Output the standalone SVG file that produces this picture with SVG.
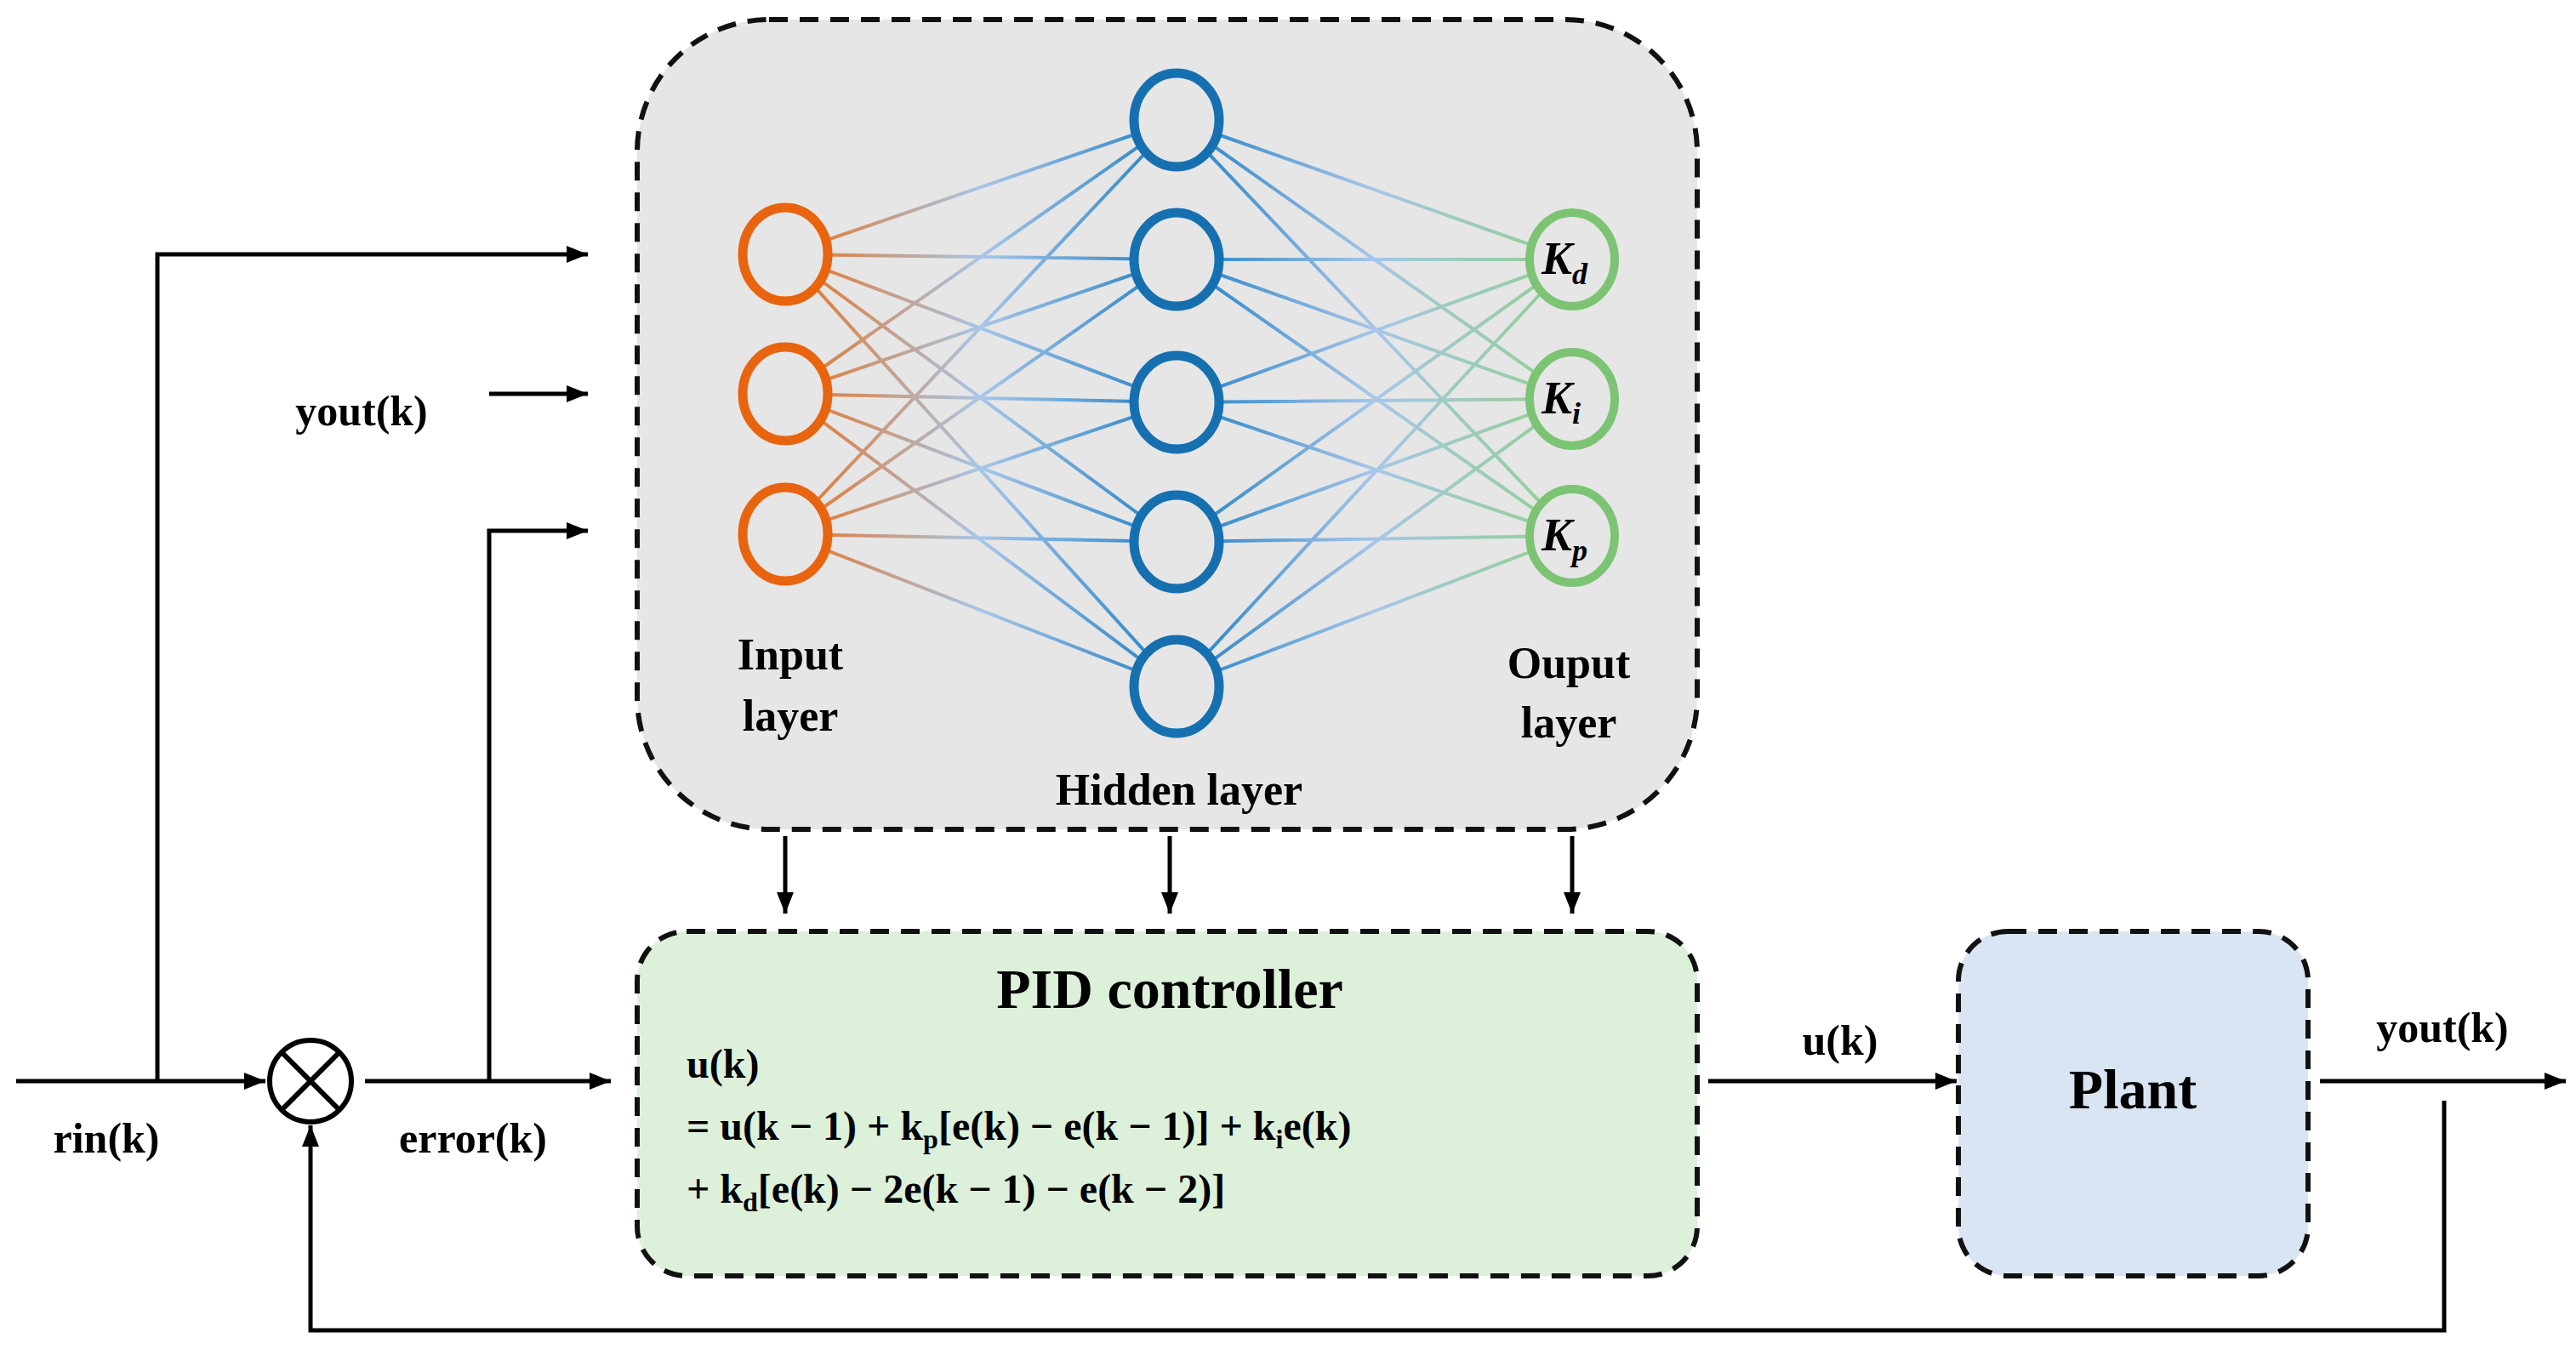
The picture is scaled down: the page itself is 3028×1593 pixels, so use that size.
<svg xmlns="http://www.w3.org/2000/svg" width="3028" height="1593" viewBox="0 0 3028 1593">
<defs>
<linearGradient id="gIH" gradientUnits="userSpaceOnUse" x1="923" y1="0" x2="1383" y2="0">
<stop offset="0" stop-color="#E8711E"/><stop offset="0.5" stop-color="#A8C6E8"/><stop offset="1" stop-color="#1F7FC4"/>
</linearGradient>
<linearGradient id="gHO" gradientUnits="userSpaceOnUse" x1="1383" y1="0" x2="1848" y2="0">
<stop offset="0" stop-color="#1F7FC4"/><stop offset="0.5" stop-color="#A8C6E8"/><stop offset="1" stop-color="#8FD18A"/>
</linearGradient>
<marker id="ah" viewBox="0 0 10 10" refX="10" refY="5" markerWidth="5" markerHeight="5" orient="auto" markerUnits="strokeWidth">
<path d="M0,1 L10,5 L0,9 Z" fill="#000"/>
</marker>
</defs>
<style>
.t{font-family:"Liberation Serif",serif;font-weight:bold;fill:#000}
.c{stroke:#000;stroke-width:5;fill:none}
.box{stroke:#111;stroke-width:6;stroke-dasharray:22 14}
.ih{stroke:url(#gIH);stroke-width:4}
.ho{stroke:url(#gHO);stroke-width:4}
</style>
<rect width="3028" height="1593" fill="#fff"/>
<g id="nn">
<rect x="749" y="23" width="1246" height="952" rx="155" fill="#E6E6E6" class="box"/>
<g id="edges-ih">
<path class="ih" d="M923 299L1383 141M923 299L1383 305M923 299L1383 473M923 299L1383 637M923 299L1383 807M923 463L1383 141M923 463L1383 305M923 463L1383 473M923 463L1383 637M923 463L1383 807M923 628L1383 141M923 628L1383 305M923 628L1383 473M923 628L1383 637M923 628L1383 807"/>
</g>
<g id="edges-ho">
<path class="ho" d="M1383 141L1848 305M1383 141L1848 469M1383 141L1848 630M1383 305L1848 305M1383 305L1848 469M1383 305L1848 630M1383 473L1848 305M1383 473L1848 469M1383 473L1848 630M1383 637L1848 305M1383 637L1848 469M1383 637L1848 630M1383 807L1848 305M1383 807L1848 469M1383 807L1848 630"/>
</g>
<g id="input-nodes" fill="#E6E6E6" stroke="#E8640E" stroke-width="11">
<ellipse cx="923" cy="299" rx="50" ry="55"/><ellipse cx="923" cy="463" rx="50" ry="55"/><ellipse cx="923" cy="628" rx="50" ry="55"/>
</g>
<g id="hidden-nodes" fill="#E6E6E6" stroke="#1670B0" stroke-width="11">
<ellipse cx="1383" cy="141" rx="50" ry="55"/><ellipse cx="1383" cy="305" rx="50" ry="55"/><ellipse cx="1383" cy="473" rx="50" ry="55"/><ellipse cx="1383" cy="637" rx="50" ry="55"/><ellipse cx="1383" cy="807" rx="50" ry="55"/>
</g>
<g id="output-nodes" fill="#E6E6E6" stroke="#7CC474" stroke-width="10">
<ellipse cx="1848" cy="305" rx="50" ry="55"/><ellipse cx="1848" cy="469" rx="50" ry="55"/><ellipse cx="1848" cy="630" rx="50" ry="55"/>
</g>
<g class="t" font-style="italic" font-size="54">
<text x="1812" y="322">K<tspan font-size="36" dy="12">d</tspan></text>
<text x="1812" y="486">K<tspan font-size="36" dy="12">i</tspan></text>
<text x="1812" y="647">K<tspan font-size="36" dy="12">p</tspan></text>
</g>
<g class="t" font-size="52" text-anchor="middle">
<text x="929" y="787">Input</text><text x="929" y="859">layer</text>
<text x="1386" y="946">Hidden layer</text>
<text x="1844" y="797">Ouput</text><text x="1844" y="867">layer</text>
</g>
</g>
<g id="pid">
<rect x="749" y="1095" width="1246" height="405" rx="58" fill="#DDF0DA" class="box"/>
<text class="t" x="1375" y="1185" font-size="66" text-anchor="middle">PID controller</text>
<g class="t" font-size="48">
<text x="807" y="1267">u(k)</text>
<text x="807" y="1340">= u(k − 1) + k<tspan font-size="32" dy="10">p</tspan><tspan dy="-10">[e(k) − e(k − 1)] + k</tspan><tspan font-size="32" dy="10">i</tspan><tspan dy="-10">e(k)</tspan></text>
<text x="807" y="1414">+ k<tspan font-size="32" dy="10">d</tspan><tspan dy="-10">[e(k) − 2e(k − 1) − e(k − 2)]</tspan></text>
</g>
</g>
<g id="plant">
<rect x="2302" y="1095" width="411" height="405" rx="58" fill="#DAE5F3" class="box"/>
<text class="t" x="2507" y="1303" font-size="66" text-anchor="middle">Plant</text>
</g>
<g id="sum">
<circle cx="365" cy="1271" r="48" fill="#fff" stroke="#000" stroke-width="6"/>
<path d="M331 1237L399 1305M399 1237L331 1305" stroke="#000" stroke-width="6"/>
</g>
<g id="connectors">
<path class="c" marker-end="url(#ah)" d="M19 1271H312"/>
<path class="c" marker-end="url(#ah)" d="M429 1271H718"/>
<path class="c" marker-end="url(#ah)" d="M185 1271V299H691"/>
<path class="c" marker-end="url(#ah)" d="M575 1271V624H691"/>
<path class="c" marker-end="url(#ah)" d="M575 463H691"/>
<path class="c" marker-end="url(#ah)" d="M923 983V1074"/>
<path class="c" marker-end="url(#ah)" d="M1375 983V1074"/>
<path class="c" marker-end="url(#ah)" d="M1848 983V1074"/>
<path class="c" marker-end="url(#ah)" d="M2008 1271H2300"/>
<path class="c" marker-end="url(#ah)" d="M2727 1271H3016"/>
<path class="c" marker-end="url(#ah)" d="M2873 1294V1564H365V1323"/>
</g>
<g id="labels" class="t" font-size="50">
<text x="125" y="1355" text-anchor="middle">rin(k)</text>
<text x="556" y="1355" text-anchor="middle">error(k)</text>
<text x="425" y="500" text-anchor="middle">yout(k)</text>
<text x="2163" y="1240" text-anchor="middle">u(k)</text>
<text x="2871" y="1225" text-anchor="middle">yout(k)</text>
</g>
</svg>
